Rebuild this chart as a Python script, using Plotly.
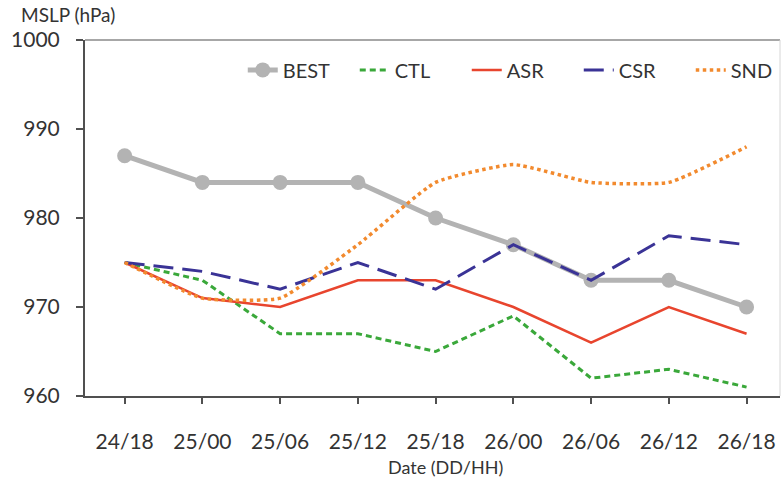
import plotly.graph_objects as go

# Forecast times (DD/HH)
dates = ["24/18", "25/00", "25/06", "25/12", "25/18", "26/00", "26/06", "26/12", "26/18"]

# Minimum sea-level pressure (hPa) for the best track and each experiment
best = [987, 984, 984, 984, 980, 977, 973, 973, 970]
ctl = [975, 973, 967, 967, 965, 969, 962, 963, 961]
asr = [975, 971, 970, 973, 973, 970, 966, 970, 967]
csr = [975, 974, 972, 975, 972, 977, 973, 978, 977]
snd = [975, 971, 971, 977, 984, 986, 984, 984, 988]

y_ticks = [960, 970, 980, 990, 1000]

FONT = "Lato"
AXIS_COLOR = "#505050"
x_pos = list(range(len(dates)))

fig = go.Figure()
fig.add_trace(go.Scatter(
    x=x_pos, y=best, name="BEST", mode="lines+markers",
    line=dict(color="#b3b3b3", width=5),
    marker=dict(color="#b3b3b3", size=15),
))
fig.add_trace(go.Scatter(
    x=x_pos, y=ctl, name="CTL", mode="lines",
    line=dict(color="#3aa83a", width=3, dash="6px,4px"),
))
fig.add_trace(go.Scatter(
    x=x_pos, y=asr, name="ASR", mode="lines",
    line=dict(color="#e8452e", width=2.5),
))
fig.add_trace(go.Scatter(
    x=x_pos, y=csr, name="CSR", mode="lines",
    line=dict(color="#3a3396", width=3, dash="20px,9px"),
))
fig.add_trace(go.Scatter(
    x=x_pos, y=snd, name="SND", mode="lines",
    line=dict(color="#f28a2e", width=3.5, dash="dot", shape="spline", smoothing=0.45),
))

# Light frame on the top and right of the plot area
fig.add_shape(type="line", xref="paper", yref="paper", x0=0, x1=1, y0=1, y1=1,
              line=dict(color="#8a8a8a", width=1.5))
fig.add_shape(type="line", xref="paper", yref="paper", x0=1, x1=1, y0=0, y1=1,
              line=dict(color="#d6d6d6", width=1))

fig.add_annotation(text="MSLP (hPa)", xref="paper", yref="paper", x=-0.095, y=1.072,
                   xanchor="left", yanchor="middle", showarrow=False,
                   font=dict(family=FONT, size=19, color="#333333"))
fig.add_annotation(text="Date (DD/HH)", xref="paper", yref="paper", x=0.519, y=-0.2,
                   xanchor="center", yanchor="middle", showarrow=False,
                   font=dict(family=FONT, size=18, color="#333333"))

fig.update_layout(
    width=784, height=482,
    margin=dict(l=85, r=4, t=40, b=86, autoexpand=False),
    paper_bgcolor="white", plot_bgcolor="white",
    font=dict(family=FONT, color="#333333"),
    showlegend=True,
    legend=dict(
        orientation="h", x=0.227, y=0.916, xanchor="left", yanchor="middle",
        font=dict(family=FONT, size=20, color="#333333"),
        bgcolor="rgba(0,0,0,0)", tracegroupgap=0,
        entrywidth=67, entrywidthmode="pixels",
    ),
    xaxis=dict(
        range=[-0.51, 8.43], tickmode="array", tickvals=x_pos, ticktext=dates,
        showgrid=False, zeroline=False, showline=True, linecolor=AXIS_COLOR, linewidth=2,
        ticks="outside", ticklen=6, tickcolor=AXIS_COLOR, tickwidth=1.5,
        ticklabelstandoff=20,
        tickfont=dict(family=FONT, size=21, color="#333333"),
    ),
    yaxis=dict(
        range=[960, 1000], tickvals=y_ticks,
        showgrid=False, zeroline=False, showline=True, linecolor=AXIS_COLOR, linewidth=2,
        ticks="outside", ticklen=7, tickcolor=AXIS_COLOR, tickwidth=1.5,
        ticklabelstandoff=12,
        tickfont=dict(family=FONT, size=21, color="#333333"),
    ),
)

fig.write_html("out.html")
